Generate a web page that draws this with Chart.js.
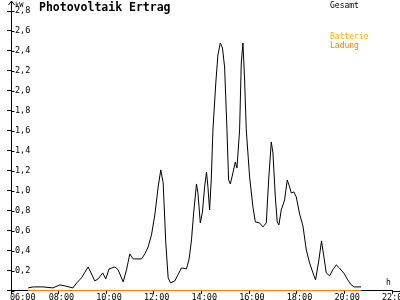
<!DOCTYPE html>
<html><head><meta charset="utf-8">
<script src="https://cdn.jsdelivr.net/npm/chart.js@4.4.1/dist/chart.umd.min.js"></script>
<style>html,body{margin:0;padding:0;background:#fff;overflow:hidden}</style>
</head><body>
<canvas id="c" width="400" height="300" style="width:400px;height:300px;display:block"></canvas>
<script>
const chartTitle = "Photovoltaik Ertrag";
const yUnit = "kW";
const xUnit = "h";
const seriesNames = ["Gesamt", "Batterie", "Ladung"];
const seriesColors = ["#000000", "#ffad00", "#ff8000"];
const xTicks = [6, 8, 10, 12, 14, 16, 18, 20, 22];
const yTicks = [0, 0.2, 0.4, 0.6, 0.8, 1.0, 1.2, 1.4, 1.6, 1.8, 2.0, 2.2, 2.4, 2.6, 2.8];

const gesamtHours = [6.72,6.94,7.34,7.76,8.05,8.26,8.60,8.76,8.96,9.24,9.52,9.66,9.85,9.98,10.12,10.36,10.50,10.71,10.85,10.99,11.13,11.48,11.62,11.76,11.90,12.04,12.18,12.29,12.39,12.50,12.60,12.70,12.88,13.01,13.16,13.37,13.48,13.58,13.67,13.79,13.85,13.95,14.04,14.13,14.21,14.27,14.34,14.41,14.48,14.60,14.69,14.79,14.88,14.97,15.07,15.11,15.14,15.21,15.32,15.42,15.49,15.60,15.67,15.74,15.81,15.88,16.02,16.16,16.26,16.44,16.58,16.72,16.82,16.93,17.00,17.10,17.18,17.25,17.35,17.49,17.60,17.70,17.77,17.88,17.98,18.12,18.26,18.40,18.54,18.68,18.79,18.93,19.04,19.14,19.24,19.38,19.51,19.66,19.79,20.00,20.14,20.29,20.42,20.70];
const gesamtKW = [0.03,0.04,0.04,0.03,0.06,0.05,0.03,0.08,0.13,0.24,0.10,0.12,0.18,0.12,0.22,0.24,0.21,0.09,0.21,0.37,0.32,0.32,0.37,0.44,0.56,0.76,1.04,1.21,1.08,0.48,0.13,0.08,0.10,0.16,0.23,0.22,0.32,0.51,0.78,1.07,0.98,0.68,0.79,1.04,1.19,1.04,0.81,1.11,1.61,2.08,2.36,2.48,2.43,2.24,1.61,1.31,1.11,1.07,1.18,1.29,1.23,1.61,2.28,2.48,2.11,1.61,1.14,0.84,0.69,0.68,0.64,0.68,1.11,1.49,1.38,0.94,0.69,0.66,0.81,0.91,1.11,1.04,0.98,0.99,0.94,0.77,0.65,0.41,0.28,0.18,0.11,0.31,0.50,0.34,0.18,0.15,0.21,0.26,0.23,0.17,0.11,0.06,0.04,0.04];
const batterieHours = [];
const batterieKW = [];
const ladungHours = [6.72, 20.70];
const ladungKW = [0, 0];

const pts = (xs, ys) => xs.map((x, i) => ({x: x, y: ys[i]}));
const FONT = "'DejaVu Sans Mono', monospace";

const decor = {
  id: 'decor',
  afterDraw(chart) {
    const ctx = chart.ctx;
    const xs = chart.scales.x, ys = chart.scales.y;
    const ca = chart.chartArea;
    ctx.save();
    ctx.strokeStyle = '#000';
    ctx.lineWidth = 1;
    const ax = Math.round(ca.left) + 0.5;
    const ay = Math.round(ca.bottom) + 0.5;
    // y axis extension + arrow
    ctx.beginPath();
    ctx.moveTo(ax, 1); ctx.lineTo(ax, ca.top);
    ctx.moveTo(ax, 1); ctx.lineTo(ax - 3, 5);
    ctx.moveTo(ax, 1); ctx.lineTo(ax + 3, 5);
    // x axis extension
    ctx.moveTo(ca.right, ay); ctx.lineTo(400, ay);
    // right part of y ticks
    ys.ticks.forEach(t => {
      const py = Math.round(ys.getPixelForValue(t.value)) + 0.5;
      ctx.moveTo(ax, py); ctx.lineTo(ax + 3, py);
    });
    ctx.stroke();
    // x tick labels
    ctx.fillStyle = '#000';
    ctx.font = "8.5px " + FONT;
    ctx.textAlign = 'left';
    ctx.textBaseline = 'alphabetic';
    xs.ticks.forEach((t, i) => {
      const px = xs.getPixelForValue(t.value);
      const lab = String(t.value).padStart(2, '0') + ':00';
      const left = i === 0 ? px - 1 : px - 10;
      ctx.fillText(lab, left, 299.5);
    });
    // title
    ctx.font = "bold 11.5px " + FONT;
    ctx.fillText(chartTitle, 39, 11);
    // units
    ctx.font = "7px " + FONT;
    ctx.fillText(yUnit, 15, 7);
    ctx.font = "8px " + FONT;
    ctx.fillText(xUnit, 386, 284.5);
    // legend
    const legY = [7.5, 38.5, 47.5];
    chart.data.datasets.forEach((d, i) => {
      ctx.fillStyle = d.borderColor;
      ctx.fillText(d.label, 330, legY[i]);
    });
    ctx.restore();
  }
};

new Chart(document.getElementById('c'), {
  type: 'line',
  data: {
    datasets: [
      {label: seriesNames[0], data: pts(gesamtHours, gesamtKW), borderColor: seriesColors[0], borderWidth: 1, pointRadius: 0, tension: 0, order: 2},
      {label: seriesNames[1], data: pts(batterieHours, batterieKW), borderColor: seriesColors[1], borderWidth: 1, pointRadius: 0, order: 1},
      {label: seriesNames[2], data: pts(ladungHours, ladungKW), borderColor: seriesColors[2], borderWidth: 2, pointRadius: 0, order: 0}
    ]
  },
  options: {
    responsive: false,
    animation: false,
    devicePixelRatio: 1,
    layout: {padding: {left: 11, right: 8, top: 11, bottom: 9}},
    plugins: {legend: {display: false}, tooltip: {enabled: false}, title: {display: false}},
    scales: {
      x: {
        type: 'linear', min: 6, max: 22,
        afterBuildTicks: s => { s.ticks = xTicks.map(v => ({value: v})); },
        afterFit: s => { s.height = 0; },
        grid: {drawOnChartArea: false, drawTicks: true, tickLength: 3, color: '#000'},
        border: {display: true, color: '#000', width: 1},
        ticks: {display: false}
      },
      y: {
        type: 'linear', min: 0, max: 2.8,
        afterBuildTicks: s => { s.ticks = yTicks.map(v => ({value: v})); },
        afterFit: s => { s.width = 0; },
        grid: {drawOnChartArea: false, drawTicks: true, tickLength: 4, color: '#000'},
        border: {display: true, color: '#000', width: 1},
        ticks: {
          mirror: true, padding: 4, color: '#000',
          font: {family: FONT, size: 8.5},
          callback: v => v === 0 ? '' : v.toFixed(1).replace('.', ',')
        }
      }
    }
  },
  plugins: [decor]
});
</script>
</body></html>
